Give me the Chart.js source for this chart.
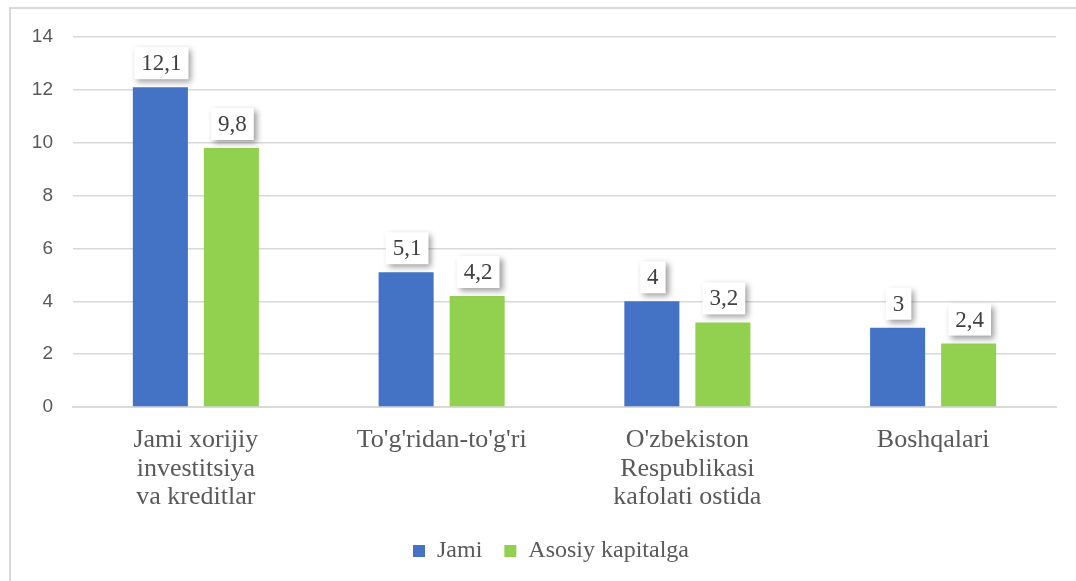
<!DOCTYPE html>
<html>
<head>
<meta charset="utf-8">
<script src="https://cdn.jsdelivr.net/npm/chart.js@4.4.1/dist/chart.umd.min.js"></script>
<style>
  html, body { margin: 0; padding: 0; background: #ffffff; overflow: hidden; }
  #wrap { position: relative; width: 1076px; height: 581px; }
  #frame { position: absolute; left: 9px; top: 7px; width: 1200px; height: 700px;
           border: 2px solid #d9d9d9; box-sizing: border-box; pointer-events: none; }
  canvas { position: absolute; left: 0; top: 0; }
</style>
</head>
<body>
<div id="wrap">
  <div id="frame"></div>
  <canvas id="chart" width="1076" height="581"></canvas>
</div>
<script>
// Categories and series
const categories = [
  ["Jami xorijiy", "investitsiya", "va kreditlar"],
  "To'g'ridan-to'g'ri",
  ["O'zbekiston", "Respublikasi", "kafolati ostida"],
  "Boshqalari"
];
const jami = [12.1, 5.1, 4, 3];
const asosiyKapitalga = [9.8, 4.2, 3.2, 2.4];
const seriesNames = ["Jami", "Asosiy kapitalga"];
const yTicks = [0, 2, 4, 6, 8, 10, 12, 14];

const SERIF = "'Liberation Serif', 'Times New Roman', serif";
const SANS = "'Liberation Sans', Arial, sans-serif";

const fmt = v => String(v).replace('.', ',');

// Value boxes above each bar: white card with a soft shadow
const valueBoxes = {
  id: 'valueBoxes',
  afterDatasetsDraw(chart) {
    const ctx = chart.ctx;
    ctx.save();
    ctx.font = "23px " + SERIF;
    ctx.textAlign = 'center';
    ctx.textBaseline = 'middle';
    chart.data.datasets.forEach((ds, di) => {
      const meta = chart.getDatasetMeta(di);
      meta.data.forEach((bar, i) => {
        const txt = fmt(ds.data[i]);
        const tw = ctx.measureText(txt).width;
        const w = tw + 14, h = 32;
        const x = bar.x - w / 2 + 1;
        const y = bar.y - 8 - h;
        ctx.save();
        ctx.shadowColor = 'rgba(0,0,0,0.38)';
        ctx.shadowBlur = 6;
        ctx.shadowOffsetX = 3;
        ctx.shadowOffsetY = 3;
        ctx.fillStyle = '#ffffff';
        ctx.fillRect(x, y, w, h);
        ctx.restore();
        ctx.fillStyle = '#404040';
        ctx.fillText(txt, x + w / 2, y + h / 2 + 1);
      });
    });
    ctx.restore();
  }
};

// Nudge the legend row a little to the right of the canvas centre
const legendShift = {
  id: 'legendShift',
  afterLayout(chart) {
    const lg = chart.legend;
    if (lg) { lg.left += 13; lg.right += 13; }
  }
};

new Chart(document.getElementById('chart'), {
  type: 'bar',
  data: {
    labels: categories,
    datasets: [
      { label: seriesNames[0], data: jami, backgroundColor: '#4472c4' },
      { label: seriesNames[1], data: asosiyKapitalga, backgroundColor: '#92d050' }
    ]
  },
  options: {
    responsive: false,
    animation: false,
    devicePixelRatio: 1,
    datasets: { bar: { categoryPercentage: 0.578, barPercentage: 0.775 } },
    layout: { padding: { left: 20, right: 20, top: 37, bottom: 8 } },
    scales: {
      x: {
        grid: { display: false },
        border: { display: true, color: '#d9d9d9', width: 2 },
        ticks: {
          color: '#595959',
          font: { family: SERIF, size: 26, lineHeight: 1.1 },
          padding: 11,
          maxRotation: 0,
          autoSkip: false
        },
        afterFit(scale) { scale.height = 110; }
      },
      y: {
        min: 0, max: 14,
        afterBuildTicks(scale) { scale.ticks = yTicks.map(v => ({ value: v })); },
        grid: { color: '#d9d9d9', lineWidth: 1.5, drawTicks: false },
        border: { display: false },
        ticks: {
          color: '#595959',
          font: { family: SANS, size: 19 },
          padding: 20
        },
        afterFit(scale) { scale.width = 53; }
      }
    },
    plugins: {
      legend: {
        position: 'bottom',
        labels: {
          color: '#595959',
          font: { family: SERIF, size: 24 },
          boxWidth: 12,
          boxHeight: 12,
          padding: 22
        }
      },
      tooltip: { enabled: false }
    }
  },
  plugins: [valueBoxes, legendShift]
});
</script>
</body>
</html>
